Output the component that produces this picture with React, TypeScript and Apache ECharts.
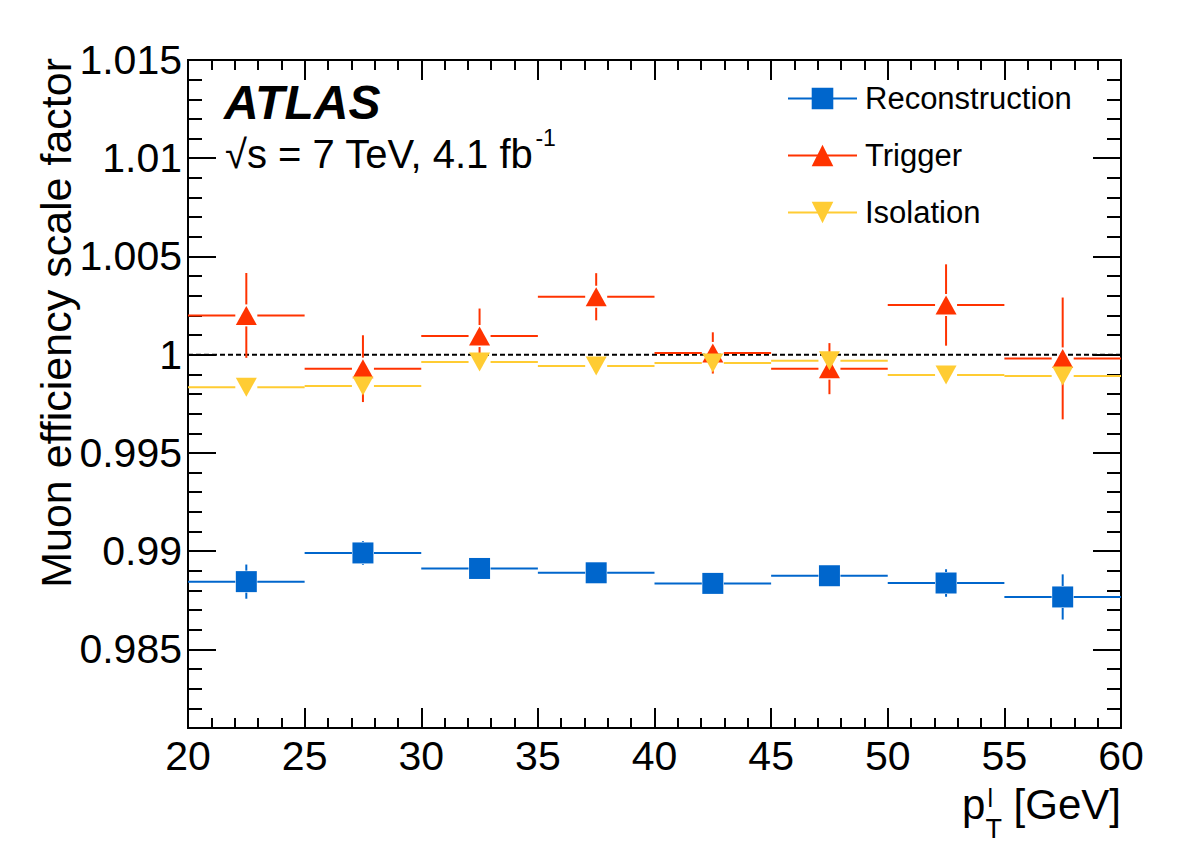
import React, { useEffect, useRef } from "react";
import * as echarts from "echarts";

// ---------------- data ----------------
const ptBinEdges = [20, 25, 30, 35, 40, 45, 50, 55, 60];
const recoValues = [0.98845, 0.98991, 0.98912, 0.9889, 0.98836, 0.98875, 0.98838, 0.98767];
const recoErrors = [0.00087, 0.0006, 0.0004, 0.0004, 0.0004, 0.0004, 0.0007, 0.00115];
const trigValues = [1.002, 0.99929, 1.00095, 1.00295, 1.00009, 0.99929, 1.00253, 0.99981];
const trigErrors = [0.00216, 0.0017, 0.0014, 0.0012, 0.00105, 0.0013, 0.00207, 0.0031];
const isoValues = [0.99834, 0.99841, 0.99963, 0.99942, 0.99958, 0.99969, 0.99897, 0.99892];
const isoErrors = [0.0003, 0.0003, 0.0003, 0.0003, 0.0003, 0.0003, 0.0003, 0.0004];
const referenceLine = 1;
const xRange = [20, 60];
const yRange = [0.981, 1.015];

const seriesNames = ["Reconstruction", "Trigger", "Isolation"];
const seriesColors = ["#0066cc", "#ff3300", "#ffcc33"];

const FONT = '"Liberation Sans", Arial, Helvetica, sans-serif';
const ENERGY_TEXT = "\u221As = 7 TeV, 4.1 fb";

function measure(text: string, size: number, weight = "normal", style = "normal") {
  const c = document.createElement("canvas").getContext("2d");
  if (!c) return text.length * size * 0.55;
  c.font = `${style} ${weight} ${size}px "Liberation Sans", Arial, sans-serif`;
  return c.measureText(text).width;
}

function markerData(values: number[]) {
  const out: any[] = [];
  values.forEach((v, i) => {
    const c = (ptBinEdges[i] + ptBinEdges[i + 1]) / 2;
    if (i > 0) out.push([ptBinEdges[i], null]);
    out.push([c, v]);
  });
  return out;
}

function errorData(values: number[], errs: number[]) {
  return values.map((v, i) => [
    (ptBinEdges[i] + ptBinEdges[i + 1]) / 2,
    v,
    errs[i],
    ptBinEdges[i],
    ptBinEdges[i + 1],
  ]);
}

function makeErrorRender(color: string) {
  const gap = 11;
  return (params: any, api: any) => {
    const xc = api.value(0);
    const y = api.value(1);
    const e = api.value(2);
    const xl = api.value(3);
    const xh = api.value(4);
    const c = api.coord([xc, y]);
    const lo = api.coord([xl, y]);
    const hi = api.coord([xh, y]);
    const top = api.coord([xc, y + e])[1];
    const bot = api.coord([xc, y - e])[1];
    const style = { stroke: color, lineWidth: 2 };
    const children: any[] = [];
    if (c[0] - gap > lo[0])
      children.push({ type: "line", shape: { x1: lo[0], y1: c[1], x2: c[0] - gap, y2: c[1] }, style });
    if (hi[0] > c[0] + gap)
      children.push({ type: "line", shape: { x1: c[0] + gap, y1: c[1], x2: hi[0], y2: c[1] }, style });
    if (c[1] - gap > top)
      children.push({ type: "line", shape: { x1: c[0], y1: top, x2: c[0], y2: c[1] - gap }, style });
    if (bot > c[1] + gap)
      children.push({ type: "line", shape: { x1: c[0], y1: c[1] + gap, x2: c[0], y2: bot }, style });
    return { type: "group", children };
  };
}

const fmtY = (v: number) => {
  const k = Math.round(v * 1000);
  if (k % 5 !== 0) return "";
  return String(parseFloat(v.toFixed(3)));
};

function buildOption() {
  const black = "#000";
  const axisLine = { show: true, onZero: false, lineStyle: { color: black, width: 2 } };
  const xAxisBase = (pos: string, labels: boolean) => ({
    type: "value",
    position: pos,
    min: xRange[0],
    max: xRange[1],
    interval: 5,
    axisLine,
    axisTick: { show: true, inside: true, length: 20, lineStyle: { color: black, width: 2 } },
    minorTick: { show: true, splitNumber: 5, length: 10, lineStyle: { color: black, width: 2 } },
    splitLine: { show: false },
    minorSplitLine: { show: false },
    axisLabel: {
      show: labels,
      fontSize: 41,
      lineHeight: 34,
      fontFamily: FONT,
      color: black,
      margin: 11,
    },
  });
  const yMajor = (pos: string, labels: boolean) => ({
    type: "value",
    position: pos,
    min: yRange[0],
    max: yRange[1],
    splitNumber: 7,
    axisLine,
    axisTick: { show: true, inside: true, length: 28, lineStyle: { color: black, width: 2 } },
    splitLine: { show: false },
    axisLabel: {
      show: labels,
      fontSize: 41,
      fontFamily: FONT,
      color: black,
      margin: 6,
      showMinLabel: false,
      formatter: fmtY,
    },
  });
  const yMinor = (pos: string) => ({
    type: "value",
    position: pos,
    min: yRange[0],
    max: yRange[1],
    interval: 0.001,
    axisLine,
    axisTick: { show: true, inside: true, length: 14, lineStyle: { color: black, width: 2 } },
    splitLine: { show: false },
    axisLabel: { show: false },
  });

  const series: any[] = [
    {
      name: "ref",
      type: "line",
      data: [
        [xRange[0], referenceLine],
        [xRange[1], referenceLine],
      ],
      symbol: "none",
      lineStyle: { color: black, width: 2, type: [5, 3] },
      z: 1,
      silent: true,
    },
  ];
  const valueSets = [recoValues, trigValues, isoValues];
  const errSets = [recoErrors, trigErrors, isoErrors];
  const symbols = ["rect", "triangle", "triangle"];
  const sizes: any[] = [21, [21, 19], [21, 19]];
  const rotates = [0, 0, 180];
  seriesNames.forEach((name, i) => {
    series.push({
      name: name + " errors",
      type: "custom",
      data: errorData(valueSets[i], errSets[i]),
      encode: { x: 0, y: 1 },
      renderItem: makeErrorRender(seriesColors[i]),
      z: 2 + i * 2,
      silent: true,
      clip: false,
    });
    series.push({
      name,
      type: "line",
      data: markerData(valueSets[i]),
      connectNulls: false,
      symbol: symbols[i],
      symbolSize: sizes[i],
      symbolRotate: rotates[i],
      showSymbol: true,
      color: seriesColors[i],
      itemStyle: { color: seriesColors[i] },
      lineStyle: { color: seriesColors[i], width: 2 },
      z: 3 + i * 2,
      silent: true,
    });
  });

  // x-axis title pieces
  const gevText = " [GeV]";
  const gevW = measure(gevText, 42);
  const stackW = Math.max(measure("T", 27), measure("l", 25));
  const stackLeft = 1121 - gevW - stackW;
  const energyW = measure(ENERGY_TEXT, 40);

  const txt = (x: number, y: number, text: string, size: number, extra: any = {}, rot = 0) => ({
    type: "text",
    x,
    y,
    rotation: rot,
    silent: true,
    style: {
      text,
      fontSize: size,
      fontFamily: FONT,
      fill: black,
      align: "left",
      verticalAlign: "middle",
      ...extra,
    },
  });

  return {
    animation: false,
    backgroundColor: "#fff",
    textStyle: { fontFamily: FONT },
    grid: { left: 188, right: 61, top: 60, bottom: 118, containLabel: false },
    xAxis: [xAxisBase("bottom", true), xAxisBase("top", false)],
    yAxis: [yMajor("left", true), yMinor("left"), yMajor("right", false), yMinor("right")],
    legend: {
      orient: "vertical",
      left: 782,
      top: 78,
      itemWidth: 69,
      itemHeight: 27,
      itemGap: 26,
      selectedMode: false,
      data: seriesNames,
      textStyle: {
        fontSize: 31,
        fontFamily: FONT,
        color: black,
        lineHeight: 30,
        padding: [0, 0, 0, 3],
      },
    },
    graphic: [
      txt(224, 102.5, "ATLAS", 48, { fontWeight: "bold", fontStyle: "italic" }),
      txt(225, 154, ENERGY_TEXT, 40),
      txt(225 + energyW + 2, 138, "-1", 23),
      txt(56, 58, "Muon efficiency scale factor", 43, { align: "right" }, Math.PI / 2),
      txt(1121, 804, gevText, 42, { align: "right" }),
      txt(stackLeft, 829, "T", 27, { lineHeight: 22 }),
      txt(stackLeft + 2, 798, "l", 25, { lineHeight: 18 }),
      txt(stackLeft, 804, "p", 42, { align: "right" }),
    ],
    series,
  };
}

export default function App() {
  const ref = useRef<HTMLDivElement>(null);
  useEffect(() => {
    if (!ref.current) return;
    const chart = echarts.init(ref.current, null, { renderer: "svg" });
    chart.setOption(buildOption() as any);
    return () => chart.dispose();
  }, []);
  return (
    <div
      ref={ref}
      style={{ position: "absolute", left: 0, top: 0, width: 1182, height: 846, background: "#fff" }}
    />
  );
}
